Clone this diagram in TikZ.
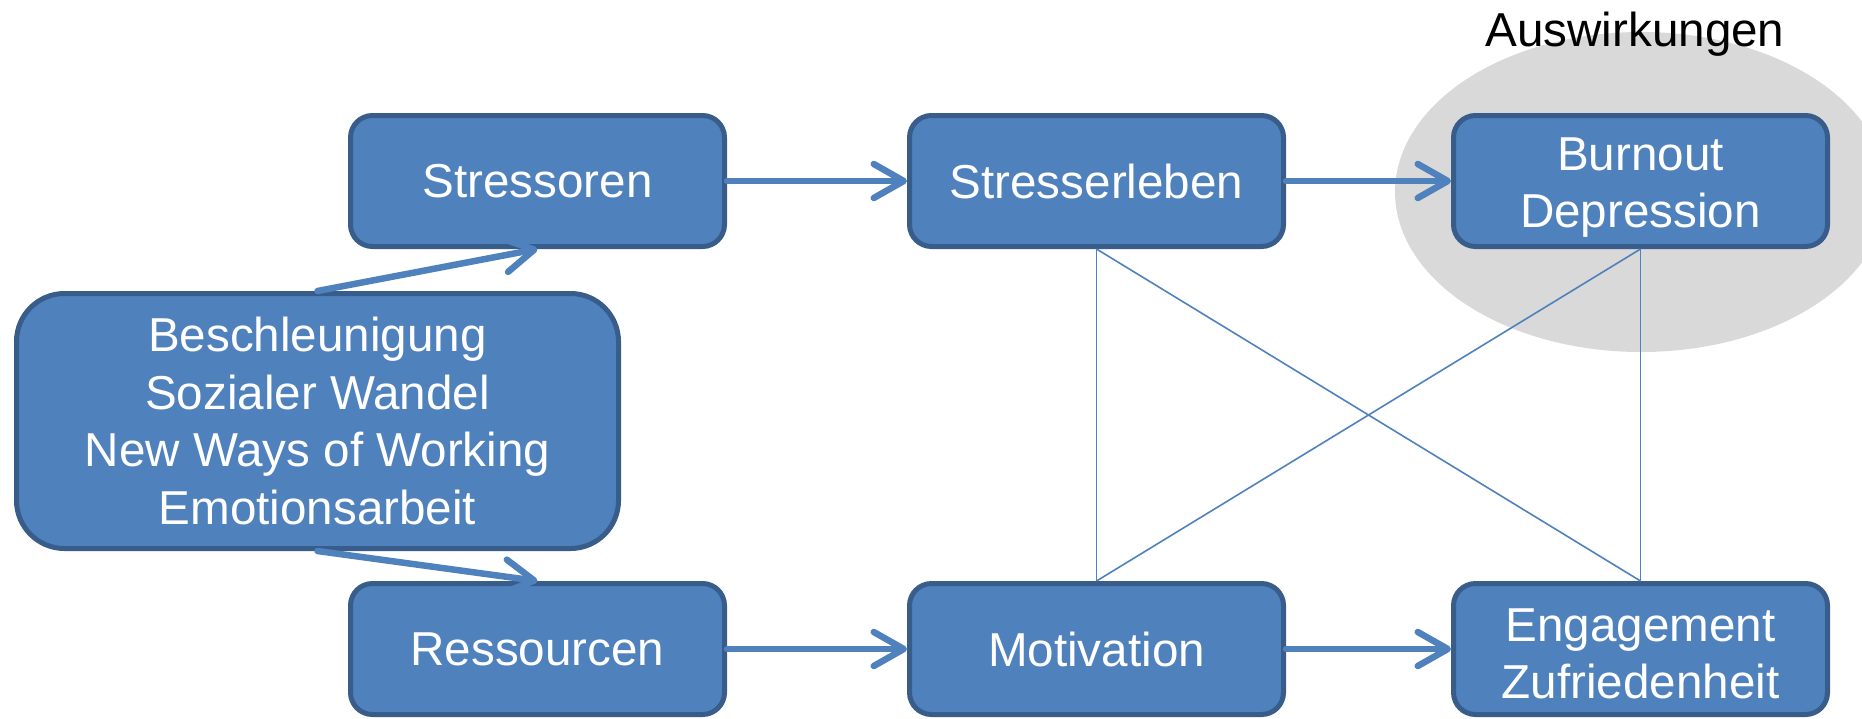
\documentclass[tikz,border=0pt]{standalone}
\usepackage{fontspec}
\setmainfont{Liberation Sans}
\usetikzlibrary{arrows.meta}
\definecolor{boxfill}{HTML}{4F81BD}
\definecolor{boxline}{HTML}{385D8A}
\definecolor{ellfill}{HTML}{D9D9D9}
\tikzset{
  box/.style={draw=boxline, fill=boxfill, line width=5pt, rounded corners=22pt,
    minimum width=374pt, minimum height=131pt, align=center, text=white,
    font=\fontsize{47.6}{57.4}\selectfont, inner sep=0pt},
  bigbox/.style={box, rounded corners=48pt, minimum width=602pt, minimum height=255pt},
  arr/.style={draw=boxfill, line width=6.5pt, line cap=round,
    -{Straight Barb[length=30pt, width=34pt, line width=6.5pt, round]}},
  thin/.style={draw=boxfill, line width=1.6pt}
}
\begin{document}
\begin{tikzpicture}[x=1pt, y=-1pt]
\useasboundingbox (0,0) rectangle (1862,718);
\fill[ellfill] (1641,192) ellipse [x radius=246, y radius=160];
\node[font=\fontsize{47.6}{57.4}\selectfont, text=black, inner sep=0pt] (aus) at (1635,34) {Auswirkungen};
\node[box] (st) at (537.5,181) {Stressoren};
\node[box] (se) at (1096.5,181) {Stresserleben};
\node[box] (bu) at (1640.5,181) {\rule{0pt}{46pt}Burnout\\Depression};
\node[bigbox] (bg) at (317.5,421) {Beschleunigung\\Sozialer Wandel\\New Ways of Working\\Emotionsarbeit};
\node[box] (re) at (537.5,649) {Ressourcen};
\node[box] (mo) at (1096.5,649) {Motivation};
\node[box] (en) at (1640.5,649) {\rule{0pt}{42pt}Engagement\\Zufriedenheit};
\draw[thin] (se.south) -- (mo.north);
\draw[thin] (se.south) -- (en.north);
\draw[thin] (bu.south) -- (mo.north);
\draw[thin] (bu.south) -- (en.north);
\draw[arr] (st.east) -- (se.west);
\draw[arr] (se.east) -- (bu.west);
\draw[arr] (re.east) -- (mo.west);
\draw[arr] (mo.east) -- (en.west);
\draw[arr] (bg.north) -- (st.south);
\draw[arr] (bg.south) -- (re.north);
\end{tikzpicture}
\end{document}
